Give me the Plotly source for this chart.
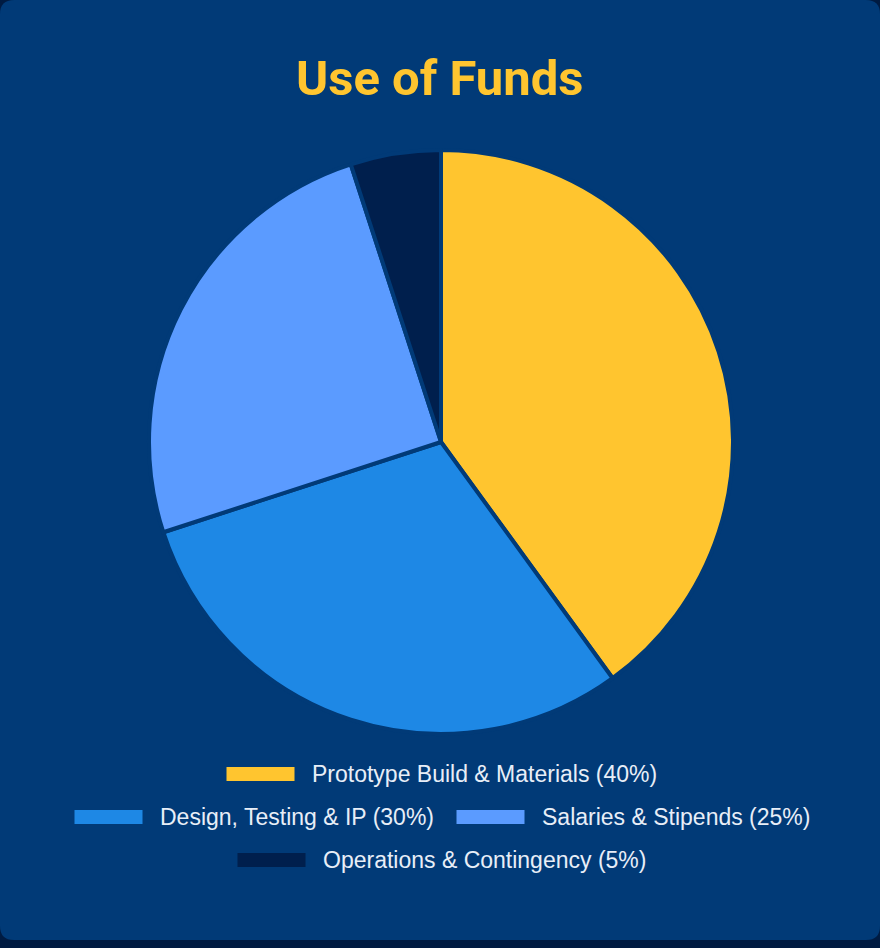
import plotly.graph_objects as go

categories = ["Prototype Build & Materials", "Design, Testing & IP", "Salaries & Stipends", "Operations & Contingency"]
values = [40, 30, 25, 5]
colors = ["#FFC52F", "#1E88E5", "#5B9BFF", "#001F4D"]
legend_labels = [f"{c} ({v}%)" for c, v in zip(categories, values)]
# legend rows: index lists per row
legend_rows = [[0], [1, 2], [3]]

W, H = 880, 948
CARD = "#013A77"
PAGE = "#001B42"

fig = go.Figure()

cx, cy, r = 441, 442, 292
fig.add_trace(go.Pie(
    labels=categories,
    values=values,
    marker=dict(colors=colors, line=dict(color=CARD, width=4)),
    sort=False,
    direction="clockwise",
    rotation=0,
    textinfo="none",
    hoverinfo="label+percent",
    showlegend=False,
    domain=dict(x=[(cx - r) / W, (cx + r) / W], y=[(H - cy - r) / H, (H - cy + r) / H]),
))

shapes = []
rad = 14
top, bot, left, right = 0, 940, 0, 880
def px(x): return x / W
def py(y): return 1 - y / H
path = (f"M {px(left)},{py(top+rad)} "
        f"Q {px(left)},{py(top)} {px(left+rad)},{py(top)} "
        f"L {px(right-rad)},{py(top)} "
        f"Q {px(right)},{py(top)} {px(right)},{py(top+rad)} "
        f"L {px(right)},{py(bot-rad)} "
        f"Q {px(right)},{py(bot)} {px(right-rad)},{py(bot)} "
        f"L {px(left+rad)},{py(bot)} "
        f"Q {px(left)},{py(bot)} {px(left)},{py(bot-rad)} Z")
shapes.append(dict(type="path", xref="paper", yref="paper", path=path,
                   fillcolor=CARD, line=dict(width=0), layer="below"))

annotations = []
font_size = 23
sw_w, sw_h, gap, item_gap = 68, 14, 15, 26
row_y = [774, 817, 860]
text_widths = {0: 344, 1: 273, 2: 266, 3: 322}
for ri, row in enumerate(legend_rows):
    total = sum(sw_w + gap + text_widths[i] for i in row) + item_gap * (len(row) - 1)
    x = W / 2 - total / 2
    y = row_y[ri]
    for i in row:
        shapes.append(dict(type="rect", xref="paper", yref="paper",
                           x0=px(x), x1=px(x + sw_w), y0=py(y + sw_h / 2), y1=py(y - sw_h / 2),
                           fillcolor=colors[i], line=dict(width=0)))
        annotations.append(dict(x=px(x + sw_w + gap), y=py(y), xref="paper", yref="paper",
                                text=legend_labels[i], showarrow=False, xanchor="left", yanchor="middle",
                                font=dict(family="Liberation Sans, Arial", size=font_size, color="#E8EEF7")))
        x += sw_w + gap + text_widths[i] + item_gap

annotations.append(dict(x=0.5, y=py(78), xref="paper", yref="paper", text="<b>Use of Funds</b>",
                        showarrow=False, xanchor="center", yanchor="middle",
                        font=dict(family="Roboto, Inter, Arial", size=49, color="#FFC52F")))

fig.update_layout(
    width=W, height=H,
    margin=dict(l=0, r=0, t=0, b=0),
    paper_bgcolor=PAGE,
    plot_bgcolor=PAGE,
    shapes=shapes,
    annotations=annotations,
)

fig.write_html("out.html", config={"displayModeBar": False})
